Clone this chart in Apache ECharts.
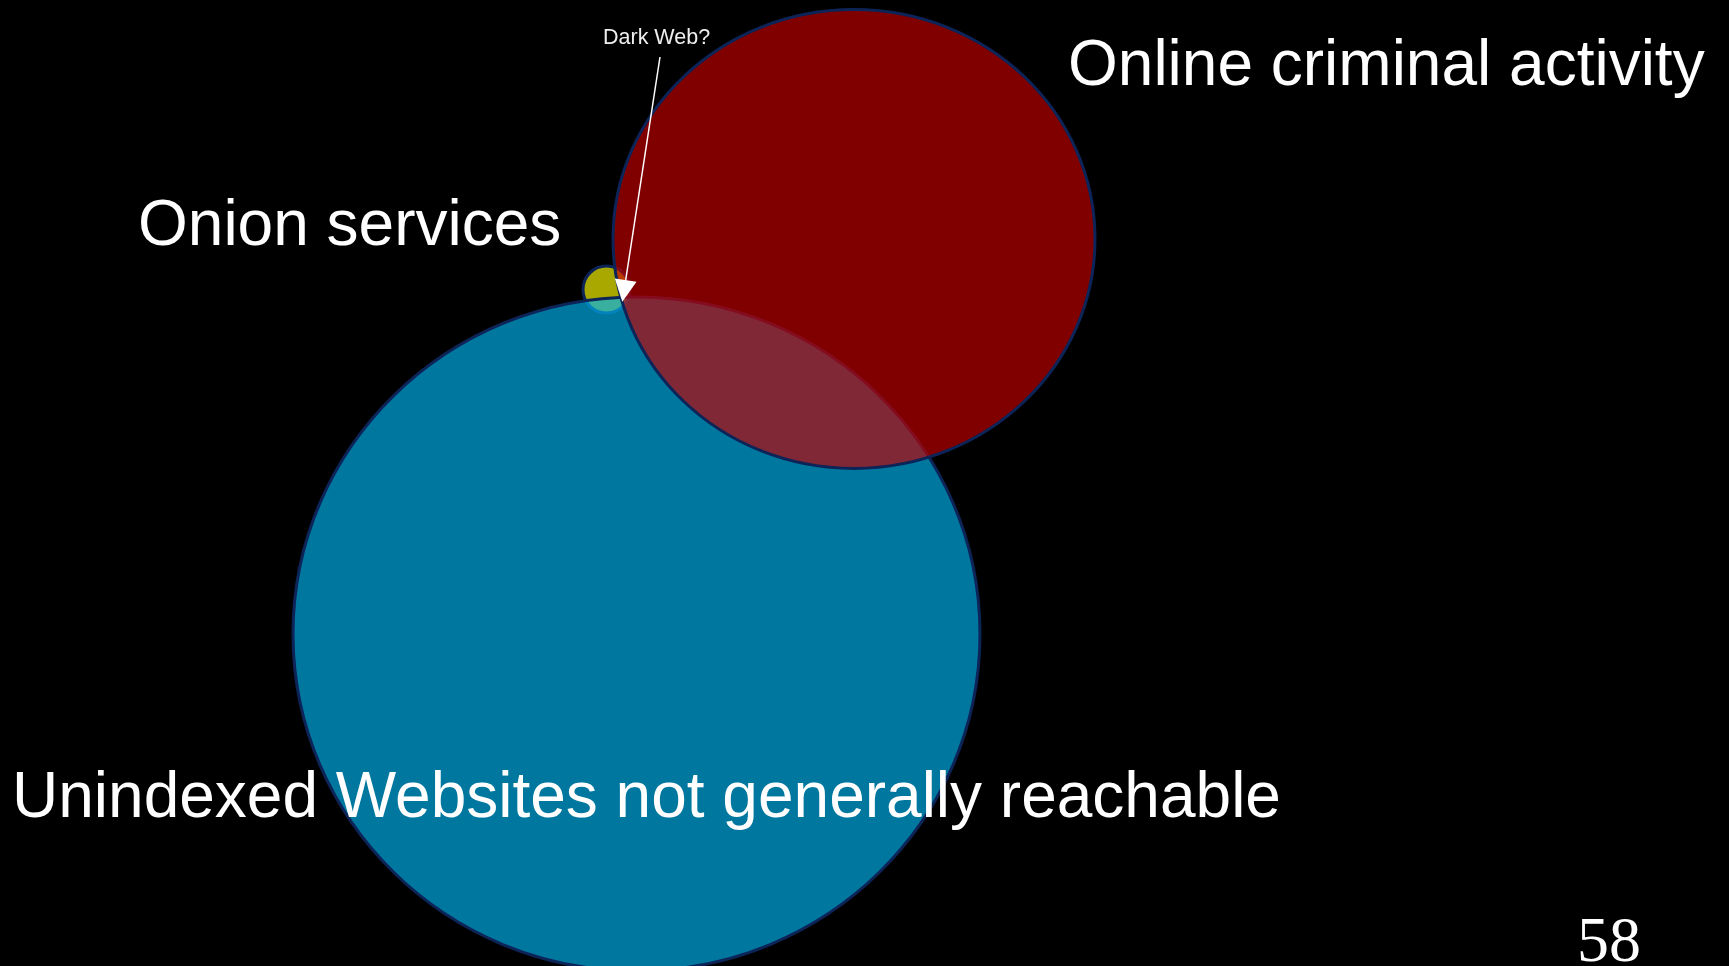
<!DOCTYPE html>
<html>
<head>
<meta charset="utf-8">
<title>Dark Web Venn</title>
<script src="https://cdn.jsdelivr.net/npm/echarts@6/dist/echarts.min.js"></script>
<style>
  html, body { margin: 0; padding: 0; background: #000; }
  #chart { width: 1729px; height: 966px; }
</style>
</head>
<body>
<div id="chart"></div>
<script>
// sets, drawn bottom to top
const setNames = ['Onion services', 'Unindexed Websites not generally reachable', 'Online criminal activity'];
const centerX = [606.5, 636.5, 854];
const centerY = [289.5, 634, 239];
const radiusX = [23.5, 343.5, 241];
const radiusY = [23.5, 337, 229.5];

// "Dark Web?" pointer
const pointerFrom = [660, 57];
const pointerTo = [624, 291];

const fillColors = ['rgba(255,255,0,0.66)', 'rgba(0,180,242,0.66)', 'rgba(194,0,0,0.66)'];
const edgeColor = '#0c2458';
const font = '"Liberation Sans", Arial, sans-serif';

const chart = echarts.init(document.getElementById('chart'));

const option = {
  backgroundColor: '#000',
  animation: false,
  grid: { left: 0, right: 0, top: 0, bottom: 0 },
  xAxis: { type: 'value', min: 0, max: 1729, show: false },
  yAxis: { type: 'value', min: 0, max: 966, inverse: true, show: false },
  series: [
    {
      type: 'custom',
      coordinateSystem: 'cartesian2d',
      data: setNames.map((n, i) => ({ name: n, value: [centerX[i], centerY[i], radiusX[i], radiusY[i]] })),
      renderItem: (params, api) => {
        const c = api.coord([api.value(0), api.value(1)]);
        const s = api.size([api.value(2), api.value(3)], [api.value(0), api.value(1)]);
        return {
          type: 'ellipse',
          z2: params.dataIndex,
          shape: { cx: c[0], cy: c[1], rx: s[0], ry: s[1] },
          style: { fill: fillColors[params.dataIndex], stroke: edgeColor, lineWidth: 3 }
        };
      },
      encode: { x: 0, y: 1 },
      z: 1
    },
    {
      type: 'lines',
      coordinateSystem: 'cartesian2d',
      z: 5,
      symbol: ['none', 'triangle'],
      symbolSize: 22,
      lineStyle: { color: '#fff', width: 1.5, opacity: 1 },
      itemStyle: { color: '#fff' },
      data: [{ coords: [pointerFrom, pointerTo] }]
    }
  ],
  graphic: [
    { type: 'text', left: 1068, top: 35, style: { text: 'Online criminal activity', fill: '#fff', font: '64px ' + font } },
    { type: 'text', left: 138, top: 195, style: { text: 'Onion services', fill: '#fff', font: '64px ' + font } },
    { type: 'text', left: 12, top: 767, style: { text: 'Unindexed Websites not generally reachable', fill: '#fff', font: '64px ' + font }, z: 10 },
    { type: 'text', left: 603, top: 27, style: { text: 'Dark Web?', fill: '#eee', font: '21.5px ' + font } },
    { type: 'text', left: 1577, top: 912, style: { text: '58', fill: '#fff', font: '64px "Liberation Serif", "Times New Roman", serif' } }
  ]
};

chart.setOption(option);
</script>
</body>
</html>
